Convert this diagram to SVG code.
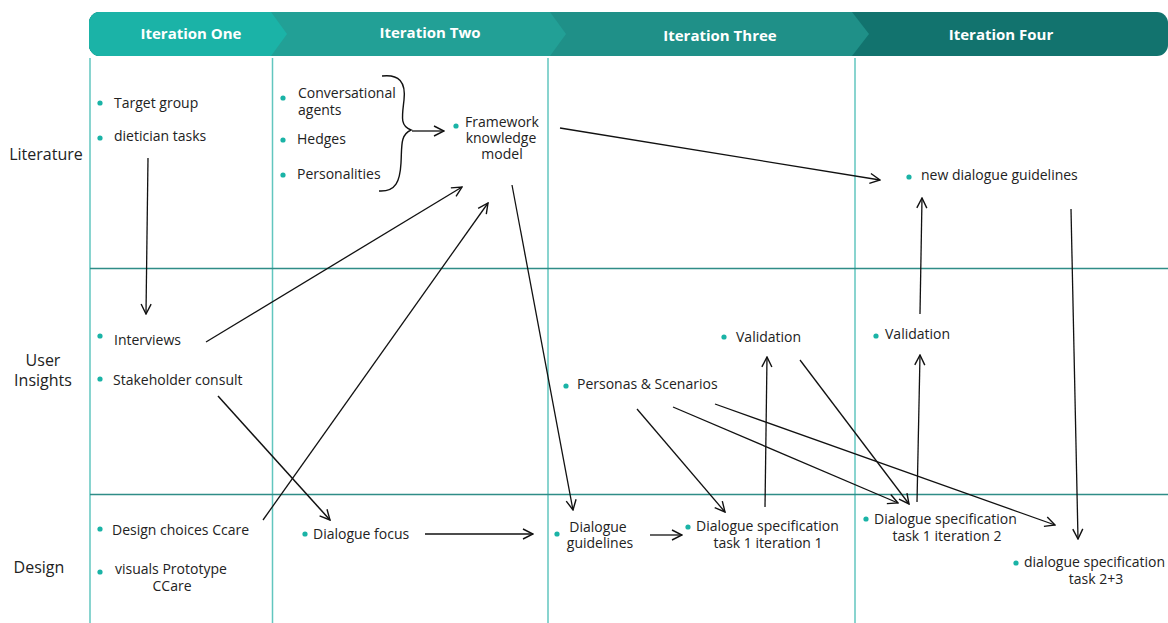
<svg xmlns="http://www.w3.org/2000/svg" width="1168" height="623" viewBox="0 0 1168 623">
  <style>
    text { font-family: "Open Sans", "Noto Sans", "Liberation Sans", sans-serif; fill: #222; }
    .hdr { font-size: 15px; font-weight: 700; fill: #ffffff; text-anchor: middle; }
    .row { font-size: 16px; text-anchor: middle; }
    .item { font-size: 14px; }
    .mid { text-anchor: middle; }
    .dot { fill: #1ab3a6; }
    .vline { stroke: #62c6bf; stroke-width: 1.5; }
    .hline { stroke: #2f8d87; stroke-width: 1.5; }
    .arrow { stroke: #111; stroke-width: 1.3; fill: none; marker-end: url(#head); }
  </style>
  <defs>
    <marker id="head" viewBox="0 0 12 12" refX="11" refY="6" markerWidth="12" markerHeight="12" markerUnits="userSpaceOnUse" orient="auto">
      <path d="M1,1 L11,6 L1,11" fill="none" stroke="#111" stroke-width="1.4"/>
    </marker>
    <clipPath id="band">
      <rect x="89" y="12" width="1079" height="44" rx="11"/>
    </clipPath>
  </defs>

  <rect width="1168" height="623" fill="#ffffff"/>

  <!-- header band with chevron segments -->
  <g id="header" clip-path="url(#band)">
    <rect x="89" y="12" width="1079" height="44" fill="#12736e"/>
    <polygon points="89,12 852,12 869,34 852,56 89,56" fill="#1f9088"/>
    <polygon points="89,12 550,12 566,34 550,56 89,56" fill="#22a096"/>
    <polygon points="89,12 271,12 287,34 271,56 89,56" fill="#1bb3a7"/>
  </g>
  <g id="header-labels">
    <text class="hdr" x="191" y="39">Iteration One</text>
    <text class="hdr" x="430" y="38">Iteration Two</text>
    <text class="hdr" x="720" y="41">Iteration Three</text>
    <text class="hdr" x="1001" y="40">Iteration Four</text>
  </g>

  <!-- grid -->
  <g id="grid">
    <line class="vline" x1="90" y1="58" x2="90" y2="623"/>
    <line class="vline" x1="272.5" y1="58" x2="272.5" y2="623"/>
    <line class="vline" x1="548" y1="58" x2="548" y2="623"/>
    <line class="vline" x1="855" y1="58" x2="855" y2="623"/>
    <line class="hline" x1="90" y1="268.5" x2="1168" y2="268.5"/>
    <line class="hline" x1="90" y1="494.5" x2="1168" y2="494.5"/>
  </g>

  <!-- row labels -->
  <g id="row-labels">
    <text class="row" x="46" y="160">Literature</text>
    <text class="row" x="43" y="366">User</text>
    <text class="row" x="43" y="386">Insights</text>
    <text class="row" x="39" y="573">Design</text>
  </g>

  <!-- iteration one -->
  <g id="target-group"><circle class="dot" cx="100" cy="103" r="2.6"/><text class="item" x="114" y="108">Target group</text></g>
  <g id="dietician-tasks"><circle class="dot" cx="100" cy="138" r="2.6"/><text class="item" x="114" y="141">dietician tasks</text></g>
  <g id="interviews"><circle class="dot" cx="100" cy="336" r="2.6"/><text class="item" x="114" y="345">Interviews</text></g>
  <g id="stakeholder-consult"><circle class="dot" cx="100" cy="379" r="2.6"/><text class="item" x="113" y="385">Stakeholder consult</text></g>
  <g id="design-choices"><circle class="dot" cx="100" cy="529" r="2.6"/><text class="item" x="112" y="535">Design choices Ccare</text></g>
  <g id="visuals-prototype"><circle class="dot" cx="100" cy="572" r="2.6"/><text class="item" x="115" y="574">visuals Prototype</text><text class="item mid" x="172" y="591">CCare</text></g>

  <!-- iteration two -->
  <g id="conversational-agents"><circle class="dot" cx="283" cy="98" r="2.6"/><text class="item" x="298" y="98">Conversational</text><text class="item" x="298" y="115">agents</text></g>
  <g id="hedges"><circle class="dot" cx="283" cy="140" r="2.6"/><text class="item" x="297" y="144">Hedges</text></g>
  <g id="personalities"><circle class="dot" cx="283" cy="175" r="2.6"/><text class="item" x="297" y="179">Personalities</text></g>
  <g id="framework"><circle class="dot" cx="456" cy="126" r="2.6"/><text class="item mid" x="502" y="127">Framework</text><text class="item mid" x="501" y="143">knowledge</text><text class="item mid" x="502" y="159">model</text></g>
  <g id="dialogue-focus"><circle class="dot" cx="305" cy="534" r="2.6"/><text class="item" x="313" y="539">Dialogue focus</text></g>

  <!-- iteration three -->
  <g id="personas"><circle class="dot" cx="566" cy="386" r="2.6"/><text class="item" x="577" y="389">Personas &amp; Scenarios</text></g>
  <g id="validation-3"><circle class="dot" cx="724" cy="337" r="2.6"/><text class="item" x="736" y="342">Validation</text></g>
  <g id="dialogue-guidelines"><circle class="dot" cx="557" cy="534" r="2.6"/><text class="item mid" x="598" y="532">Dialogue</text><text class="item mid" x="600" y="548">guidelines</text></g>
  <g id="spec-task1-it1"><circle class="dot" cx="688" cy="527" r="2.6"/><text class="item" x="696" y="531">Dialogue specification</text><text class="item mid" x="768" y="548">task 1 iteration 1</text></g>

  <!-- iteration four -->
  <g id="new-guidelines"><circle class="dot" cx="909" cy="177" r="2.6"/><text class="item" x="921" y="180">new dialogue guidelines</text></g>
  <g id="validation-4"><circle class="dot" cx="876" cy="336" r="2.6"/><text class="item" x="885" y="339">Validation</text></g>
  <g id="spec-task1-it2"><circle class="dot" cx="866" cy="519" r="2.6"/><text class="item" x="874" y="524">Dialogue specification</text><text class="item mid" x="947" y="541">task 1 iteration 2</text></g>
  <g id="spec-task23"><circle class="dot" cx="1016" cy="563" r="2.6"/><text class="item" x="1024" y="567">dialogue specification</text><text class="item mid" x="1096" y="584">task 2+3</text></g>

  <!-- connectors -->
  <g id="connectors">
    <path d="M382,76 C399,74 406,82 404,100 C402,117 400,126 411,130 C400,135 402,146 401,163 C400,181 396,192 379,191" fill="none" stroke="#111" stroke-width="1.4"/>
    <path class="arrow" d="M412,131 L444,131"/>
    <path class="arrow" d="M148,158 L146,314"/>
    <path class="arrow" d="M206,342 L462,187"/>
    <path class="arrow" d="M263,520 L488,203"/>
    <path class="arrow" d="M218,396 L330,520" style="stroke-width:1.5"/>
    <path class="arrow" d="M425,534 L533,534"/>
    <path class="arrow" d="M512,185 L573,510"/>
    <path class="arrow" d="M560,128 L880,180"/>
    <path class="arrow" d="M650,535 L682,535"/>
    <path class="arrow" d="M637,409 L725,512"/>
    <path class="arrow" d="M673,407 L898,503"/>
    <path class="arrow" d="M715,404 L1055,525"/>
    <path class="arrow" d="M765,507 L767,357"/>
    <path class="arrow" d="M800,360 L909,504"/>
    <path class="arrow" d="M917,502 L920,355"/>
    <path class="arrow" d="M920,314 L922,198"/>
    <path class="arrow" d="M1071,209 L1078,539"/>
  </g>
</svg>
